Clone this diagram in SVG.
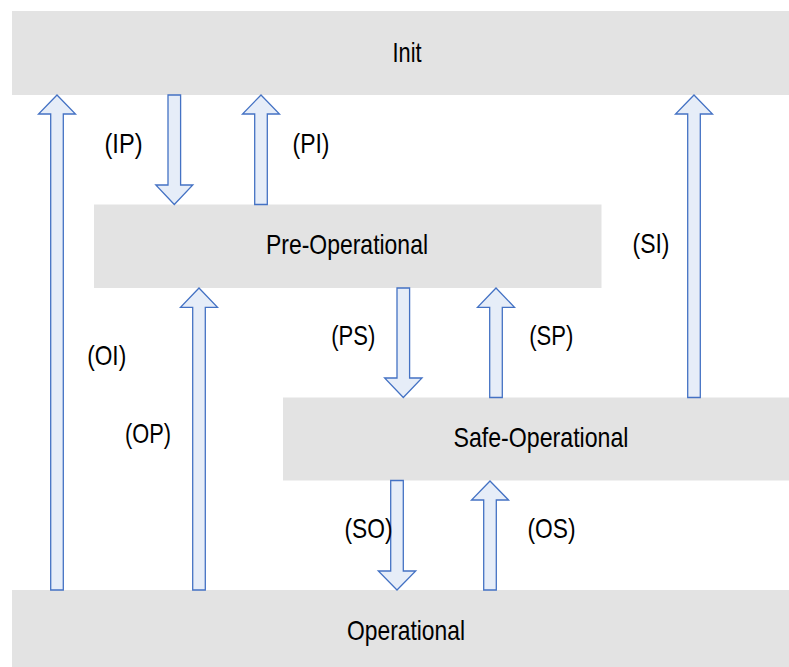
<svg xmlns="http://www.w3.org/2000/svg" width="789" height="667" viewBox="0 0 789 667">
<style>
.box{fill:#e3e3e3;stroke:none}
.t{font-family:"Liberation Sans Narrow","Liberation Sans",Arial,sans-serif;font-size:28px;fill:#000;text-anchor:middle}
.arr{fill:#e6edf8;stroke:#4472c4;stroke-width:1.3;stroke-linejoin:miter}
</style>
<rect width="789" height="667" fill="#fff"/>
<g id="init"><rect class="box" x="12" y="11" width="777" height="84"/><text class="t" x="407" y="62" textLength="29" lengthAdjust="spacingAndGlyphs">Init</text></g>
<g id="preop"><rect class="box" x="94" y="204.5" width="507.5" height="83.5"/><text class="t" x="347" y="254" textLength="162" lengthAdjust="spacingAndGlyphs">Pre-Operational</text></g>
<g id="safeop"><rect class="box" x="283" y="397.5" width="506" height="83"/><text class="t" x="541" y="447" textLength="175" lengthAdjust="spacingAndGlyphs">Safe-Operational</text></g>
<g id="op"><rect class="box" x="12" y="590" width="777" height="77"/><text class="t" x="406" y="640" textLength="118" lengthAdjust="spacingAndGlyphs">Operational</text></g>
<g id="connectors">
<polygon class="arr" points="57,95 75.5,114 63.3,114 63.3,590 50.7,590 50.7,114 38.5,114"/>
<polygon class="arr" points="168,95 180.6,95 180.6,185 192.8,185 174.3,204.5 155.8,185 168,185"/>
<polygon class="arr" points="261,95 279.5,114 267.3,114 267.3,204.5 254.7,204.5 254.7,114 242.5,114"/>
<polygon class="arr" points="694,95 712.5,114 700.3,114 700.3,397.5 687.7,397.5 687.7,114 675.5,114"/>
<polygon class="arr" points="199,288 217.5,307.3 205.3,307.3 205.3,590 192.7,590 192.7,307.3 180.5,307.3"/>
<polygon class="arr" points="397,288 409.6,288 409.6,378 422,378 403.3,397.5 384.6,378 397,378"/>
<polygon class="arr" points="496,288 514.5,307.3 502.3,307.3 502.3,397.5 489.7,397.5 489.7,307.3 477.5,307.3"/>
<polygon class="arr" points="390.7,480.5 403.3,480.5 403.3,571 415.7,571 397,590 378.3,571 390.7,571"/>
<polygon class="arr" points="490,481 508.5,500 496.3,500 496.3,590 483.7,590 483.7,500 471.5,500"/>
<text class="t" x="123.5" y="153" textLength="38" lengthAdjust="spacingAndGlyphs">(IP)</text>
<text class="t" x="311" y="153" textLength="37" lengthAdjust="spacingAndGlyphs">(PI)</text>
<text class="t" x="106.7" y="365" textLength="39" lengthAdjust="spacingAndGlyphs">(OI)</text>
<text class="t" x="148" y="443" textLength="46" lengthAdjust="spacingAndGlyphs">(OP)</text>
<text class="t" x="353.3" y="345" textLength="44" lengthAdjust="spacingAndGlyphs">(PS)</text>
<text class="t" x="551.3" y="345" textLength="44" lengthAdjust="spacingAndGlyphs">(SP)</text>
<text class="t" x="651" y="253" textLength="37" lengthAdjust="spacingAndGlyphs">(SI)</text>
<text class="t" x="368.5" y="538" textLength="48" lengthAdjust="spacingAndGlyphs">(SO)</text>
<text class="t" x="551.5" y="538" textLength="48" lengthAdjust="spacingAndGlyphs">(OS)</text>
</g>
</svg>
